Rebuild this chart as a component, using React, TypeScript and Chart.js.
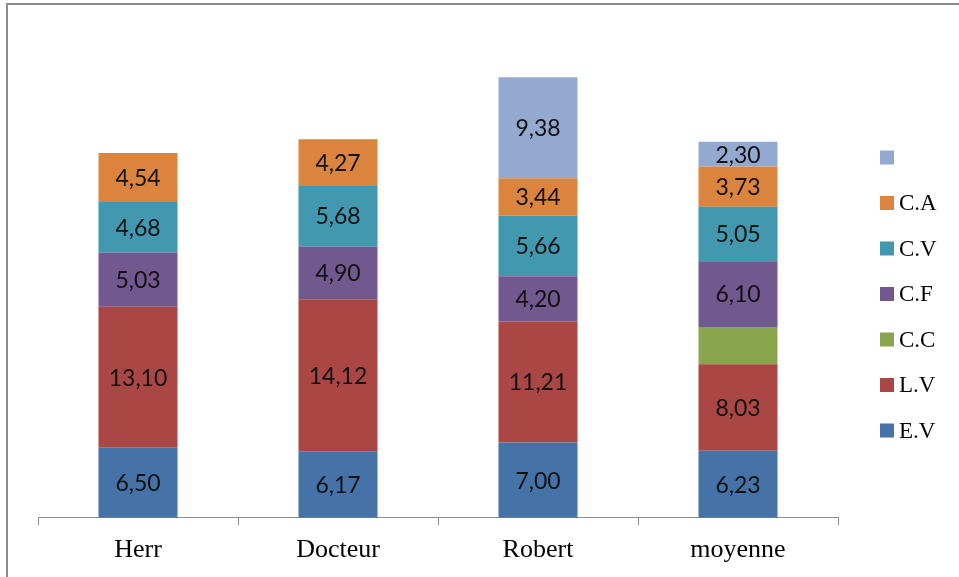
import React, { useEffect, useRef } from "react";
import { Chart, registerables } from "chart.js";

Chart.register(...registerables);

const categories = ["Herr", "Docteur", "Robert", "moyenne"];
const seriesNames = ["E.V", "L.V", "C.C", "C.F", "C.V", "C.A", ""];
const EV = [6.5, 6.17, 7.0, 6.23];
const LV = [13.1, 14.12, 11.21, 8.03];
const CC = [null, null, null, 3.46];
const CF = [5.03, 4.9, 4.2, 6.1];
const CV = [4.68, 5.68, 5.66, 5.05];
const CA = [4.54, 4.27, 3.44, 3.73];
const EXTRA = [null, null, 9.38, 2.3];
const seriesValues = [EV, LV, CC, CF, CV, CA, EXTRA];
const seriesColors = ["#4572A7", "#AA4643", "#89A54E", "#71588F", "#4198AF", "#DB843D", "#93A9CF"];
const seriesShowLabels = [true, true, false, true, true, true, true];
const yMax = 45;

const frame = {
  id: "frame",
  afterDraw(chart: any) {
    const ctx = chart.ctx;
    ctx.save();
    ctx.strokeStyle = "#8c8c8c";
    ctx.lineWidth = 2;
    ctx.beginPath();
    ctx.moveTo(chart.width, 4);
    ctx.lineTo(7, 4);
    ctx.lineTo(7, chart.height);
    ctx.stroke();
    ctx.restore();
  },
};

const valueLabels = {
  id: "valueLabels",
  afterDatasetsDraw(chart: any) {
    const ctx = chart.ctx;
    ctx.save();
    ctx.font = "23px Lato, 'Open Sans', sans-serif";
    ctx.fillStyle = "#111";
    ctx.textAlign = "center";
    ctx.textBaseline = "middle";
    chart.data.datasets.forEach((ds: any, i: number) => {
      if (!seriesShowLabels[i]) return;
      const meta = chart.getDatasetMeta(i);
      meta.data.forEach((bar: any, j: number) => {
        const v = ds.data[j];
        if (v == null) return;
        const txt = v.toFixed(2).replace(".", ",");
        ctx.fillText(txt, bar.x, (bar.y + bar.base) / 2 + 1);
      });
    });
    ctx.restore();
  },
};

const sideLegend = {
  id: "sideLegend",
  afterDraw(chart: any) {
    const ctx = chart.ctx;
    const n = chart.data.datasets.length;
    const x0 = chart.chartArea.right + 42;
    const y0 = 157.5;
    const step = 45.5;
    ctx.save();
    ctx.font = "23px 'Liberation Serif', serif";
    ctx.textBaseline = "middle";
    ctx.textAlign = "left";
    for (let k = 0; k < n; k++) {
      const ds = chart.data.datasets[n - 1 - k];
      const y = y0 + k * step;
      ctx.fillStyle = ds.backgroundColor;
      ctx.fillRect(x0, y - 7, 14, 14);
      ctx.fillStyle = "#000";
      ctx.fillText(ds.label, x0 + 19, y + 1);
    }
    ctx.restore();
  },
};

export default function App() {
  const ref = useRef<HTMLCanvasElement>(null);
  useEffect(() => {
    const chart = new Chart(ref.current!, {
      type: "bar",
      data: {
        labels: categories,
        datasets: seriesNames.map((name, i) => ({
          label: name,
          data: seriesValues[i],
          backgroundColor: seriesColors[i],
          borderWidth: 0,
          categoryPercentage: 1,
          barPercentage: 0.395,
        })),
      },
      options: {
        animation: false,
        responsive: false,
        maintainAspectRatio: false,
        layout: { padding: { left: 38, right: 121, top: 33, bottom: 1 } },
        plugins: { legend: { display: false }, tooltip: { enabled: false } },
        scales: {
          x: {
            stacked: true,
            grid: {
              display: true,
              offset: true,
              drawOnChartArea: false,
              drawTicks: true,
              tickLength: 7,
              color: "#8a8a8a",
            },
            border: { display: true, color: "#8a8a8a", width: 1 },
            ticks: {
              color: "#000",
              padding: 10,
              font: { family: "'Liberation Serif', serif", size: 26 },
            },
          },
          y: {
            stacked: true,
            display: false,
            min: 0,
            max: yMax,
          },
        },
      },
      plugins: [frame, valueLabels, sideLegend],
    });
    return () => chart.destroy();
  }, []);
  return (
    <div style={{ width: 959, height: 577, overflow: "hidden", background: "#fff" }}>
      <style>{"html,body{margin:0;padding:0;overflow:hidden;background:#fff}"}</style>
      <canvas ref={ref} width={959} height={577} style={{ display: "block" }} />
    </div>
  );
}
